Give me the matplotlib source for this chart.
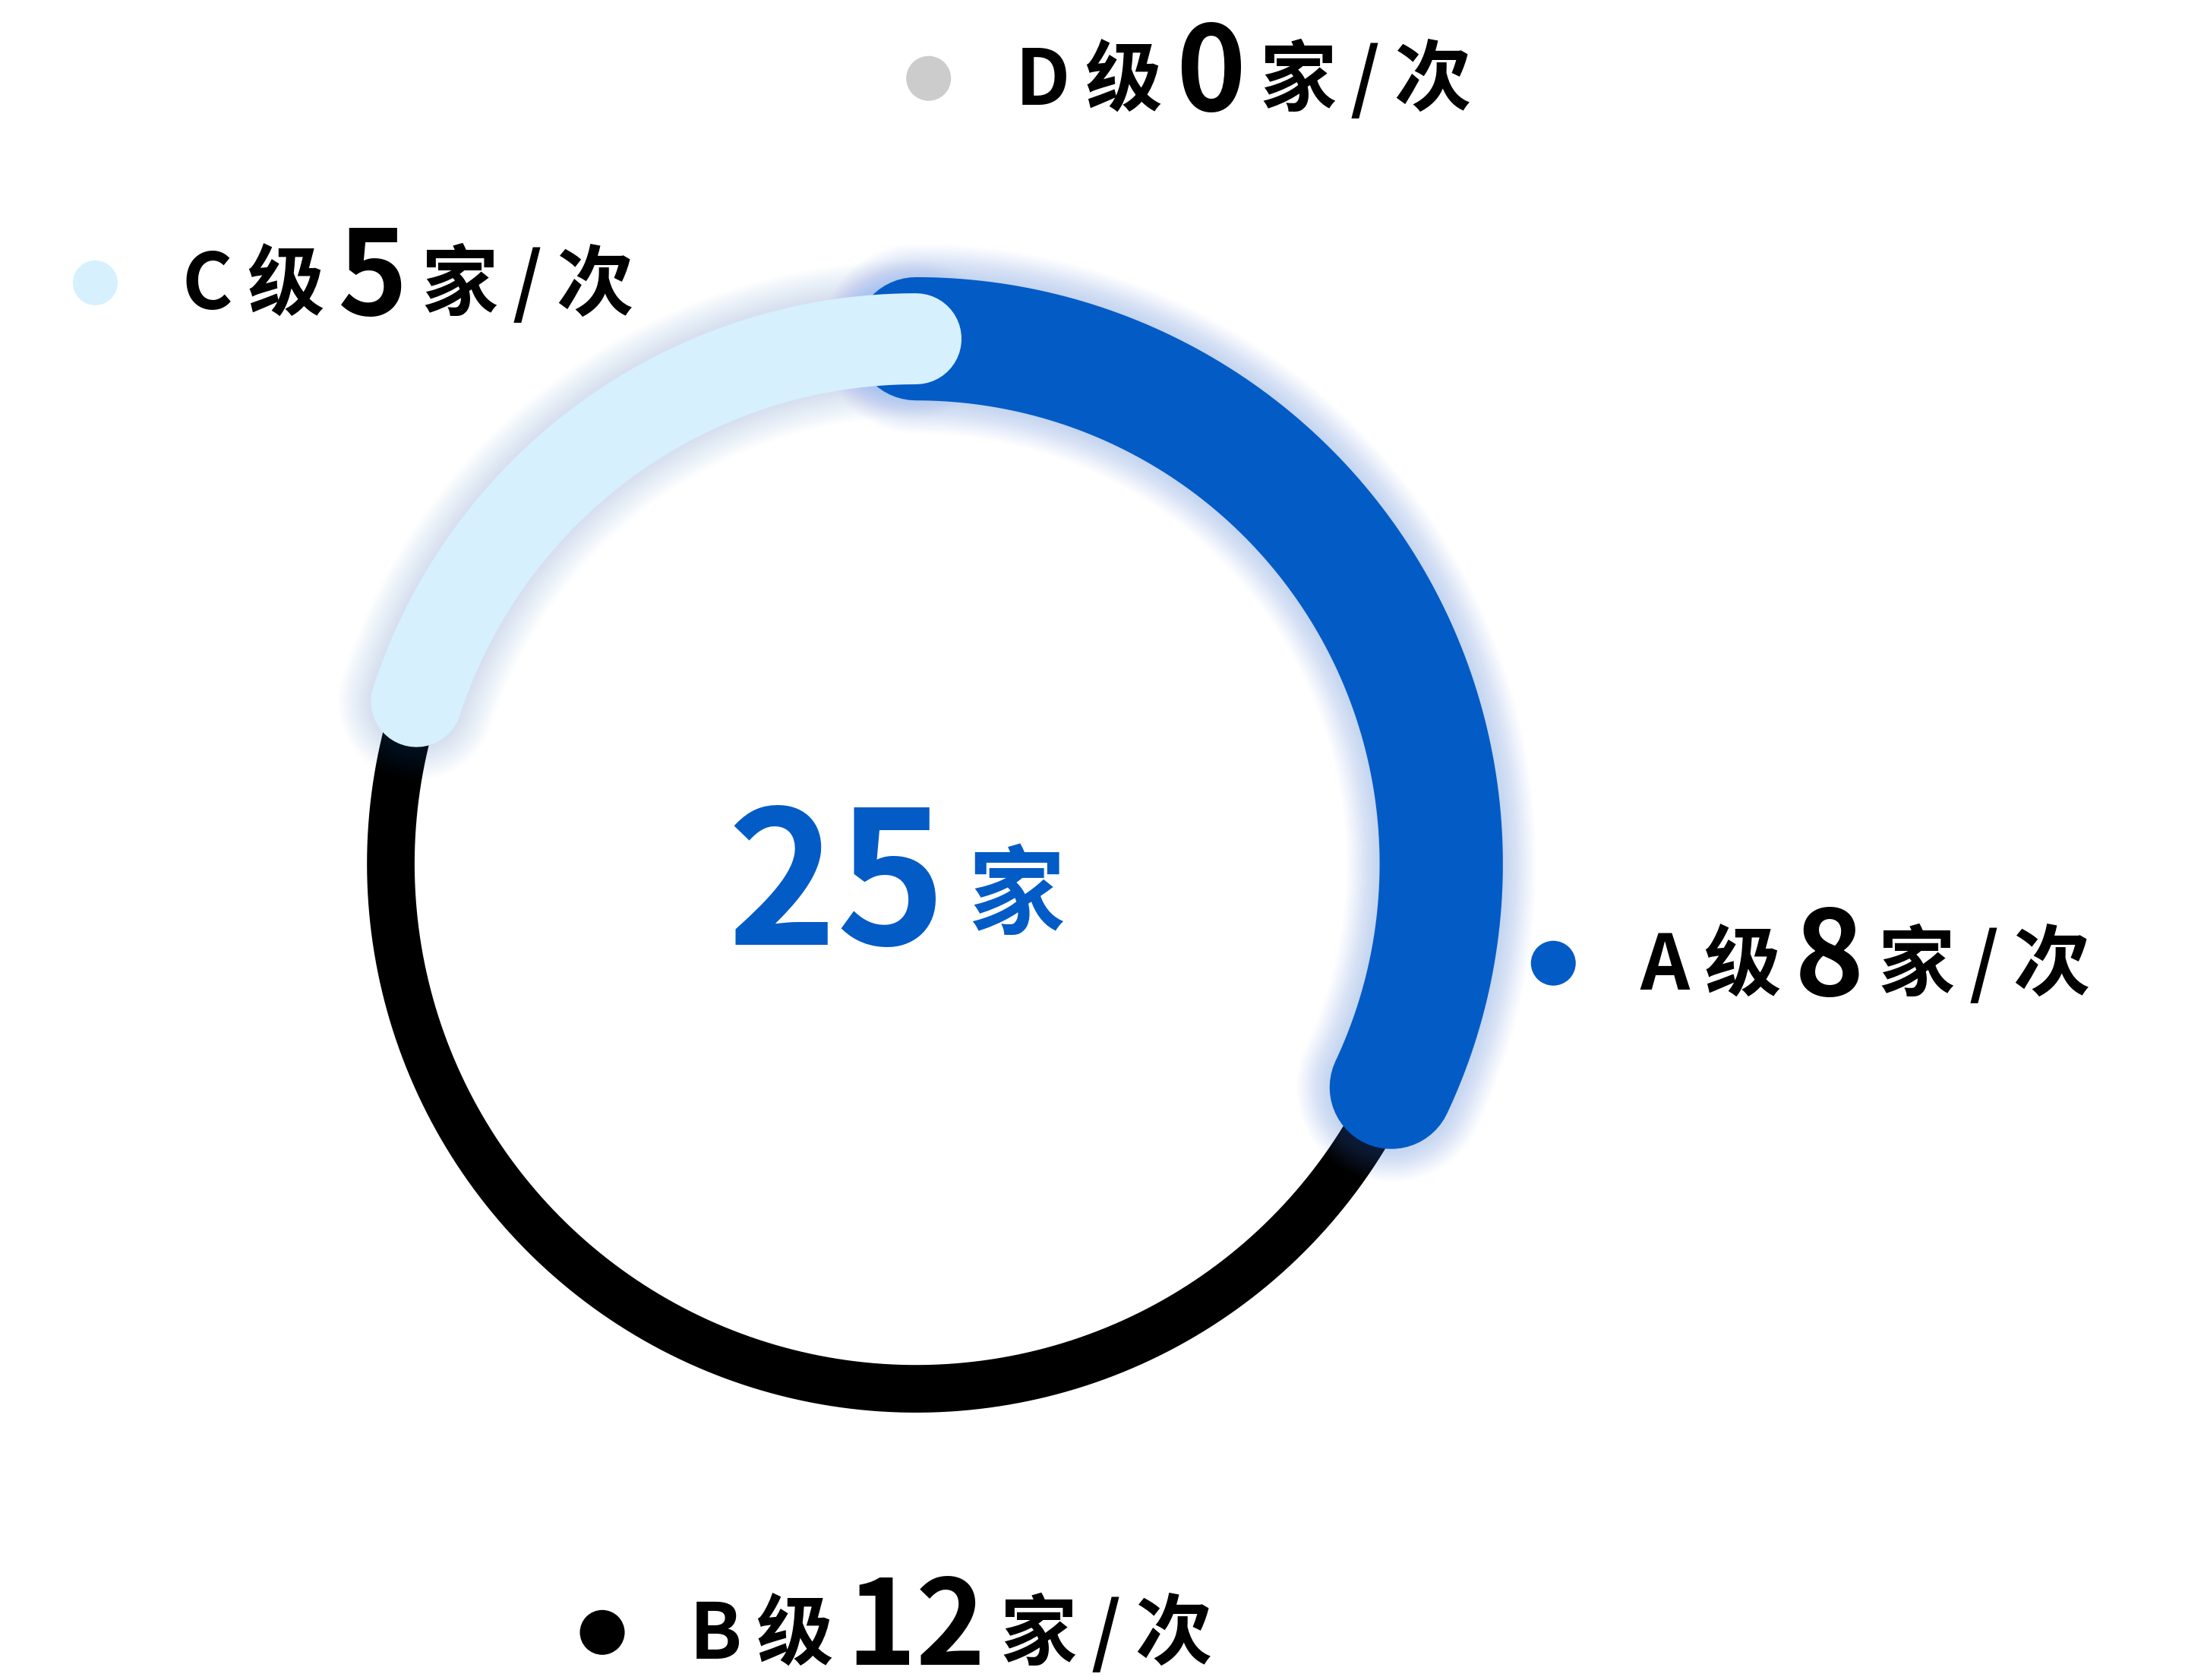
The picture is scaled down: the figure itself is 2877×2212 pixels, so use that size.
import numpy as np
import matplotlib
matplotlib.use('Agg')
import matplotlib.pyplot as plt

plt.rcParams['font.family'] = ['Noto Sans CJK SC', 'DejaVu Sans']

# data
grades = ['A', 'B', 'C', 'D']
counts = [8, 12, 5, 0]
colors = ['#035bc6', '#000000', '#d6f0fe', '#cccccc']
unit = '家'
total = sum(counts)

W, H = 1560, 1200
fig = plt.figure(figsize=(28.77, 22.12), dpi=100)
ax = fig.add_axes([0, 0, 1, 1])
ax.set_xlim(0, W)
ax.set_ylim(H, 0)
ax.axis('off')
PT = 28.77 * 72 / W        # points per data unit
PX = 2877 / W              # pixels per data unit

cx, cy, r = 654, 617, 375
widths = {'A': 88, 'B': 34, 'C': 65, 'D': 34}


def arc(a0, a1, **kw):
    t = np.radians(np.linspace(a0, a1, 500))
    ax.plot(cx + r * np.cos(t), cy - r * np.sin(t), **kw)


# angles, clockwise from top
spans = {}
a = 90.0
for g, n in zip(grades, counts):
    spans[g] = (a, a - n / total * 360)
    a -= n / total * 360

# black ring first (under the caps)
a0, a1 = spans['B']
arc(a0, a1, color=colors[1], lw=widths['B'] * PT, solid_capstyle='butt', zorder=1)

# blue + light blue with soft glow
for g, col, al in [('A', colors[0], 0.02), ('C', colors[2], 0.012)]:
    a0, a1 = spans[g]
    w = widths[g]
    for k in range(16):
        arc(a0, a1, color='#3d7cf0', alpha=al, lw=(w + 2 + k * 3.0) * PT,
            solid_capstyle='round', zorder=2)
    arc(a0, a1, color=col, lw=w * PT, solid_capstyle='round', zorder=3)

# centre total
ax.text(519, 675, str(total), fontsize=176, fontweight='bold', color=colors[0],
        ha='left', va='baseline', zorder=5)
ax.text(691, 662, unit, fontsize=92, fontweight='bold', color=colors[0],
        ha='left', va='baseline', zorder=5)

# labels
fig.canvas.draw()
renderer = fig.canvas.get_renderer()
label_pos = {'A': (1109, 688), 'B': (430, 1166), 'C': (68, 202), 'D': (663, 56)}


def label(g, n, col):
    x, y = label_pos[g]
    ax.scatter([x], [y], s=(32 * PT) ** 2, color=col, edgecolors='none', zorder=5)
    pieces = [(g, 73, 0), ('级', 73, 0), (str(n), 112, 4),
              (unit, 73, 0), ('/', 73, 0), ('次', 73, 0)]
    cur = x + 62
    for txt, fs, dy in pieces:
        t = ax.text(cur, y + 19 + dy, txt, fontsize=fs, fontweight='bold',
                    color='black', ha='left', va='baseline', zorder=5)
        bb = t.get_window_extent(renderer)
        cur += bb.width / PX + 10


for g, n, col in zip(grades, counts, colors):
    label(g, n, col)

fig.savefig('out.png', dpi=100, facecolor='white')
